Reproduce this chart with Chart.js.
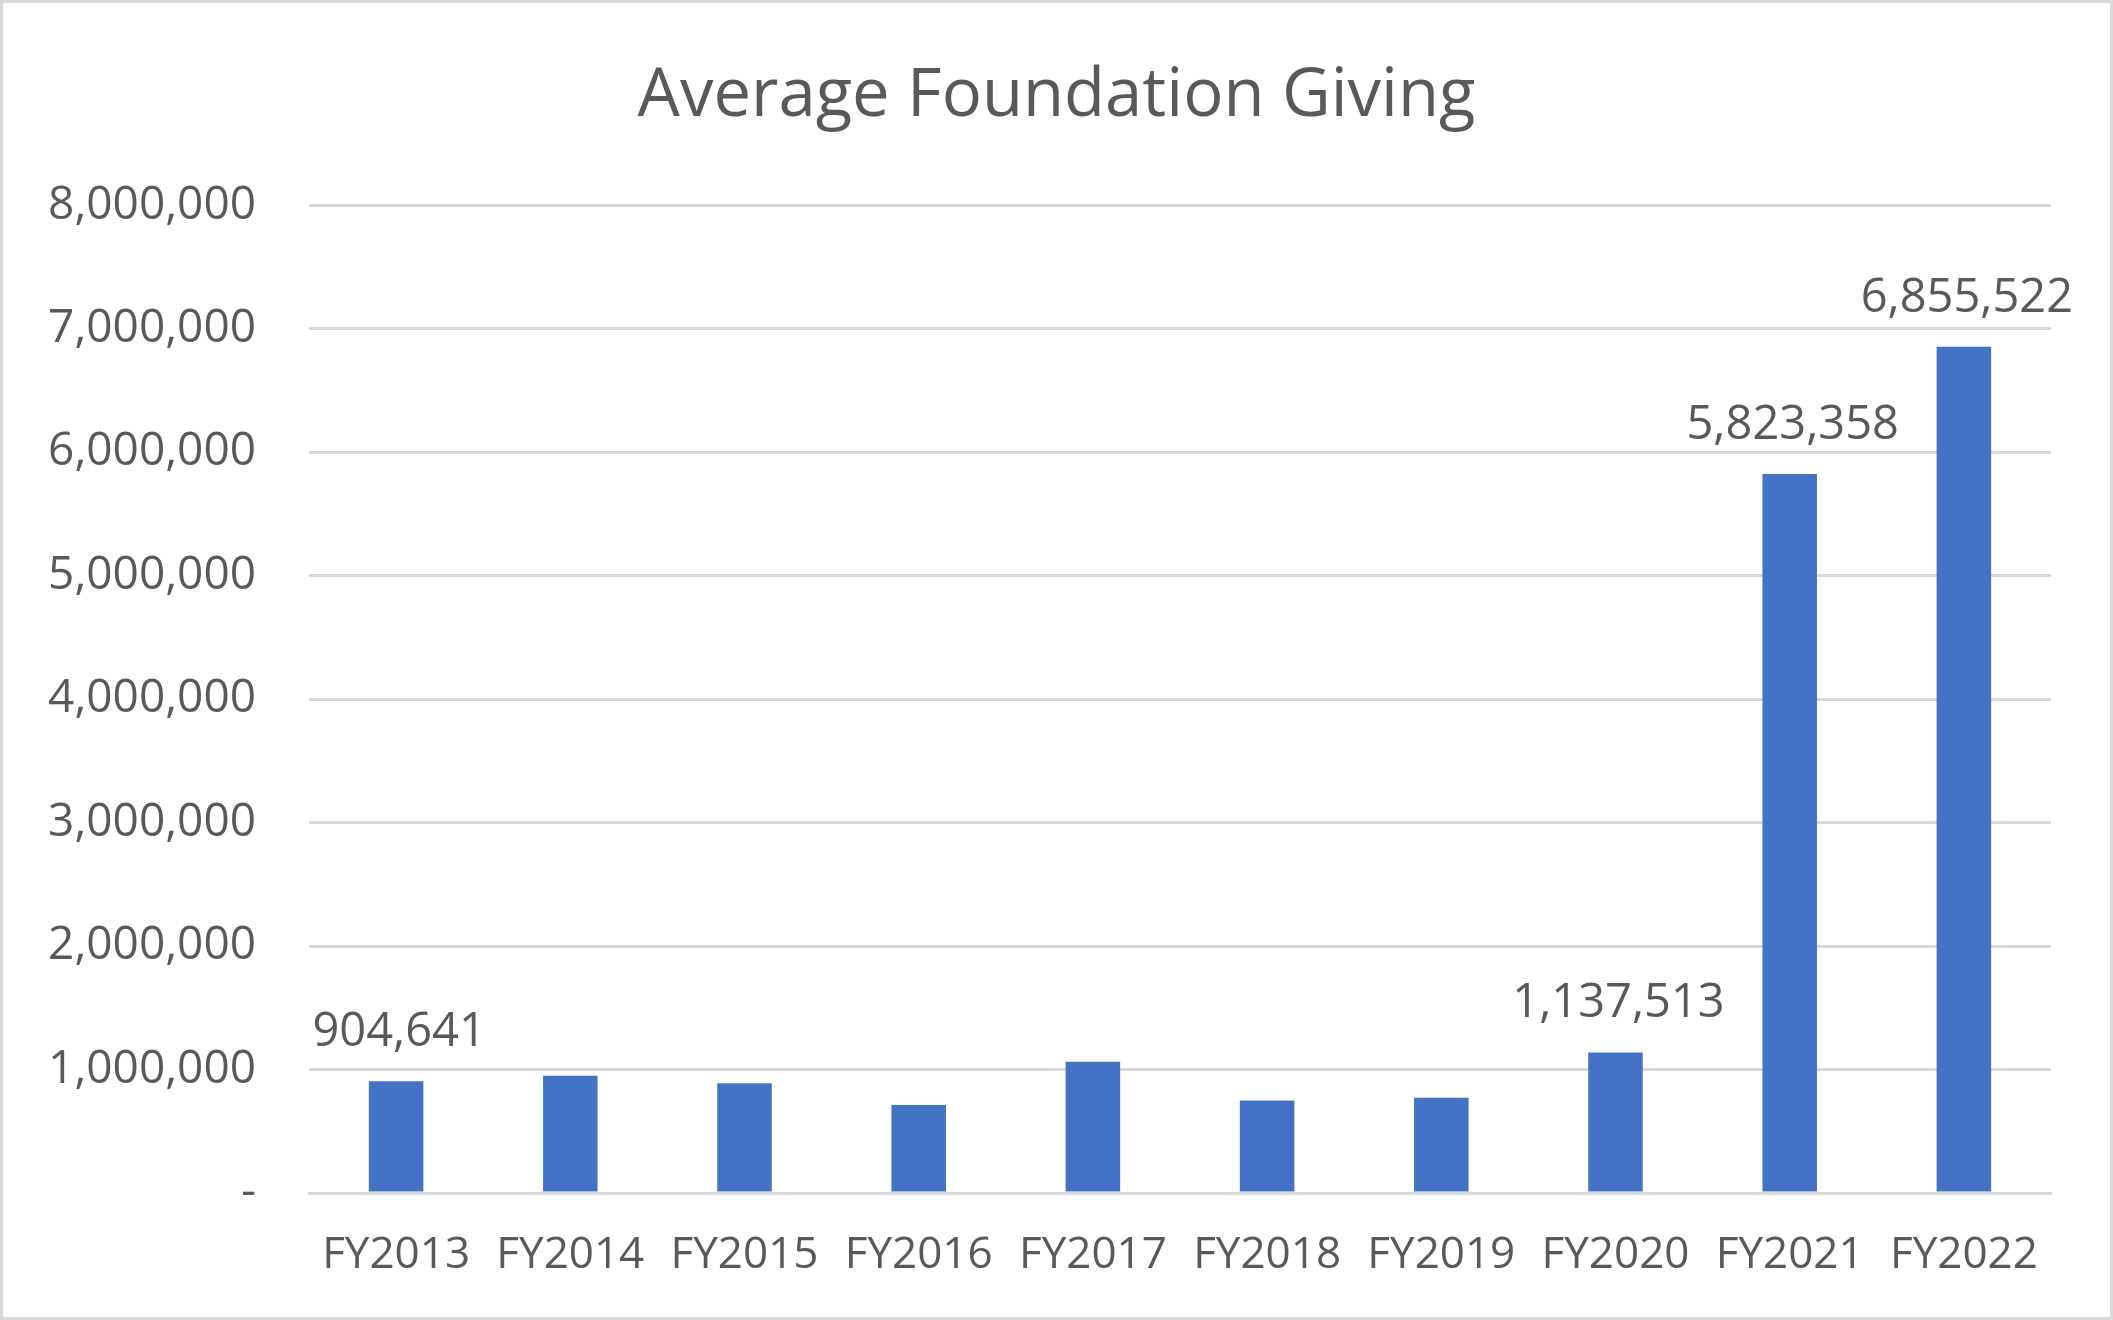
<!DOCTYPE html>
<html lang="en">
<head>
    <meta charset="UTF-8">
    <title>Average Foundation Giving</title>
    <script src="https://cdn.jsdelivr.net/npm/chart.js"></script>
    <style>
        html, body {
            margin: 0;
            padding: 0;
            background: #fff;
        }
        .frame {
            width: 2113px;
            height: 1320px;
            box-sizing: border-box;
            border: 3px solid #d9d9d9;
        }
        .frame canvas {
            display: block;
        }
    </style>
</head>
<body>

<div class="frame">
    <canvas id="givingChart" width="2107" height="1314"></canvas>
</div>

<script>
    const years = ['FY2013', 'FY2014', 'FY2015', 'FY2016', 'FY2017', 'FY2018', 'FY2019', 'FY2020', 'FY2021', 'FY2022'];
    const avgGiving = [904641, 950000, 889000, 713000, 1064000, 750000, 772000, 1137513, 5823358, 6855522];
    const labelledBars = ['FY2013', 'FY2020', 'FY2021', 'FY2022'];
    const yTicks = [0, 1000000, 2000000, 3000000, 4000000, 5000000, 6000000, 7000000, 8000000];

    const textGrey = '#595959';
    const fontFamily = '"Open Sans", "Noto Sans", sans-serif';

    function fmt(v) {
        return v === 0 ? '-' : v.toLocaleString('en-US');
    }

    // draws the value above the bars Excel showed labels for
    const barLabels = {
        id: 'barLabels',
        afterDatasetsDraw(chart) {
            const ctx = chart.ctx;
            const meta = chart.getDatasetMeta(0);
            ctx.save();
            ctx.font = '47px ' + fontFamily;
            ctx.fillStyle = textGrey;
            ctx.textAlign = 'center';
            ctx.textBaseline = 'bottom';
            meta.data.forEach((bar, i) => {
                if (!labelledBars.includes(years[i])) return;
                ctx.fillText(fmt(avgGiving[i]), bar.x + 3, bar.y - 25);
            });
            ctx.restore();
        }
    };

    const ctx = document.getElementById('givingChart').getContext('2d');
    new Chart(ctx, {
        type: 'bar',
        data: {
            labels: years,
            datasets: [{
                label: 'Average Foundation Giving',
                data: avgGiving,
                backgroundColor: '#4472C4',
                borderWidth: 0,
                categoryPercentage: 1,
                barPercentage: 0.313
            }]
        },
        options: {
            responsive: false,
            animation: false,
            layout: {
                padding: 0
            },
            plugins: {
                legend: { display: false },
                tooltip: { enabled: false },
                title: {
                    display: true,
                    text: 'Average Foundation Giving',
                    color: textGrey,
                    font: { family: fontFamily, size: 67, weight: 'normal' },
                    padding: { top: 54, bottom: 68 }
                }
            },
            scales: {
                x: {
                    grid: { display: false, drawTicks: false },
                    border: { display: true, color: '#d9d9d9', width: 3 },
                    ticks: {
                        color: textGrey,
                        font: { family: fontFamily, size: 44 },
                        padding: 36,
                        maxRotation: 0
                    },
                    afterFit(scale) { scale.height = 124; }
                },
                y: {
                    min: 0,
                    max: 8000000,
                    afterBuildTicks(scale) {
                        scale.ticks = yTicks.map(v => ({ value: v }));
                    },
                    grid: { color: '#d9d9d9', lineWidth: 3, drawTicks: false },
                    border: { display: false },
                    ticks: {
                        color: textGrey,
                        font: { family: fontFamily, size: 46 },
                        padding: 53,
                        callback: v => fmt(v)
                    },
                    afterFit(scale) { scale.width = 306; }
                },
                // empty right-hand strip so the plot stops short of the frame
                yRight: {
                    position: 'right',
                    grid: { display: false, drawTicks: false },
                    border: { display: false },
                    ticks: { display: false },
                    afterFit(scale) { scale.width = 59; }
                }
            }
        },
        plugins: [barLabels]
    });
</script>
</body>
</html>
